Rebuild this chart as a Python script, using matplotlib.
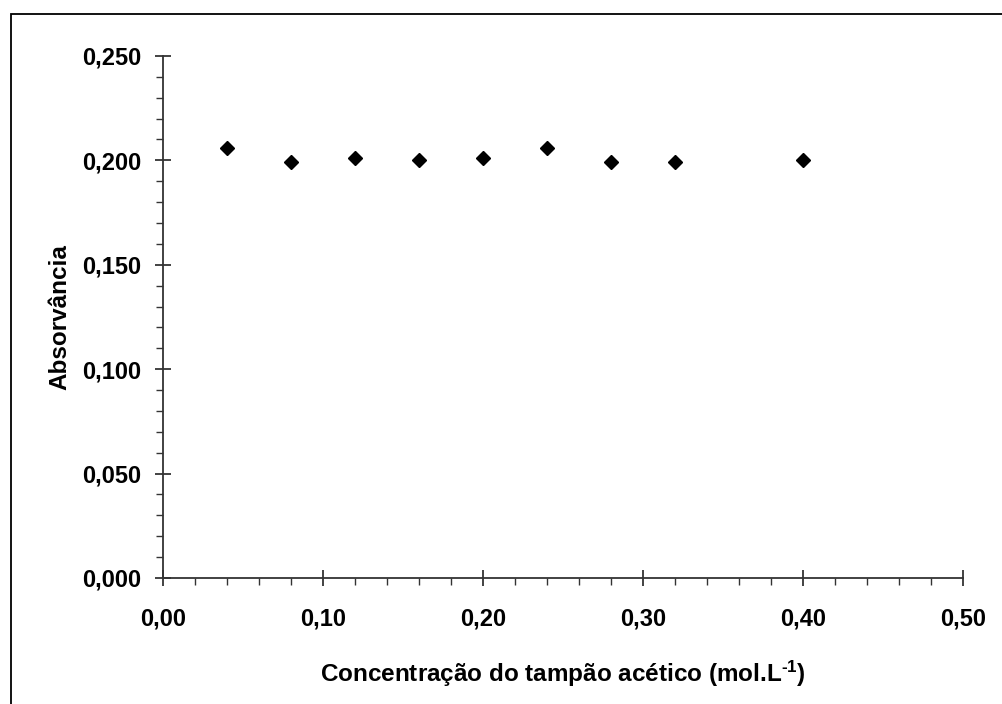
import matplotlib
matplotlib.use('Agg')
import matplotlib.pyplot as plt
from matplotlib.ticker import MultipleLocator, FuncFormatter
from matplotlib.patches import Rectangle

# concentração do tampão (mol/L) e absorvância medida
concentracao = [0.04, 0.08, 0.12, 0.16, 0.20, 0.24, 0.28, 0.32, 0.40]
absorvancia = [0.206, 0.199, 0.201, 0.200, 0.201, 0.206, 0.199, 0.199, 0.200]

plt.rcParams['font.family'] = ['Liberation Sans', 'DejaVu Sans']
plt.rcParams['font.weight'] = 'bold'
plt.rcParams['mathtext.fontset'] = 'custom'
plt.rcParams['mathtext.rm'] = 'Liberation Sans:bold'
plt.rcParams['mathtext.bf'] = 'Liberation Sans:bold'
plt.rcParams['mathtext.it'] = 'Liberation Sans:bold'

fig = plt.figure(figsize=(10.02, 7.04), dpi=100)
ax = fig.add_axes([0.1627, 0.179, 0.7984, 0.7415])

ax.plot(concentracao, absorvancia, linestyle='none', marker='D',
        markersize=7.5, color='black', clip_on=False)

ax.set_xlim(0, 0.5)
ax.set_ylim(0, 0.25)

ax.xaxis.set_major_locator(MultipleLocator(0.1))
ax.xaxis.set_minor_locator(MultipleLocator(0.02))
ax.yaxis.set_major_locator(MultipleLocator(0.05))
ax.yaxis.set_minor_locator(MultipleLocator(0.01))

ax.xaxis.set_major_formatter(FuncFormatter(lambda v, p: f'{v:.2f}'.replace('.', ',')))
ax.yaxis.set_major_formatter(FuncFormatter(lambda v, p: f'{v:.3f}'.replace('.', ',')))

for s in ['top', 'right']:
    ax.spines[s].set_visible(False)
for s in ['left', 'bottom']:
    ax.spines[s].set_linewidth(1.3)
    ax.spines[s].set_color('#333333')

ax.tick_params(which='major', direction='inout', length=11, width=1.2,
               color='#222222', labelsize=17)
ax.tick_params(which='minor', direction='out', length=5, width=1.0,
               color='#333333')
ax.tick_params(axis='y', which='major', pad=10)
ax.tick_params(axis='x', which='major', pad=16)

ax.set_xlabel(r'Concentração do tampão acético (mol.L$^{\text{-1}}$)', fontsize=17.5,
              fontweight='bold', labelpad=20)
ax.set_ylabel('Absorvância', fontsize=17.5, fontweight='bold', labelpad=8)

# moldura externa do gráfico
fig.patches.append(Rectangle((11 / 1002, -0.05), 1.05, 1 - 14 / 704 + 0.05,
                             transform=fig.transFigure, fill=False,
                             edgecolor='black', linewidth=1.3))

fig.savefig('out.png', dpi=100)
